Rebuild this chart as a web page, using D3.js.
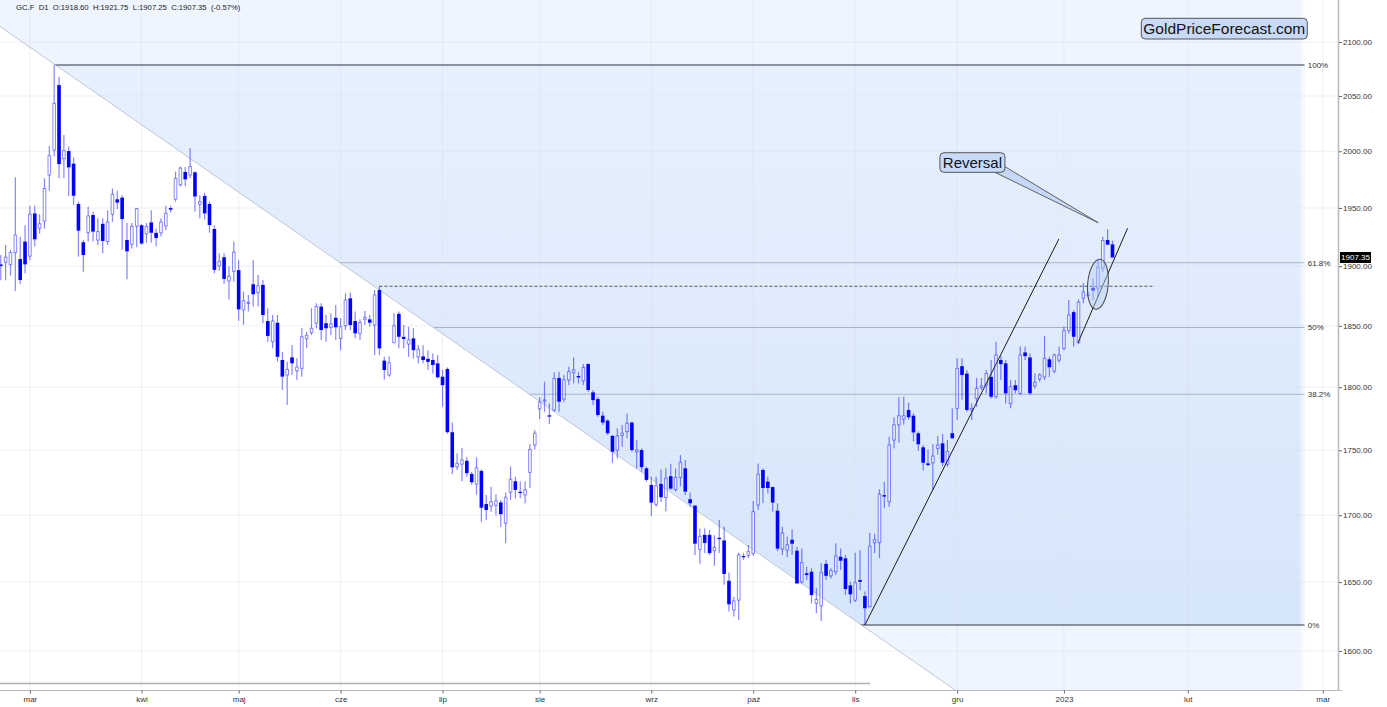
<!DOCTYPE html>
<html><head><meta charset="utf-8">
<script src="https://cdn.jsdelivr.net/npm/d3@7"></script>
<style>
body{margin:0;background:#fff;}
svg{display:block;font-family:"Liberation Sans",Arial,Helvetica,sans-serif;}
</style>
</head><body>
<svg id="chart" width="1387" height="707"></svg>
<script>
// ---------------- DATA ----------------
const symbol = "GC.F";
const timeframe = "D1";
const firstIndex = -6; // trading-day index of first bar (index 0 = 1 Mar 2022)
const opens = [
1901.5,1903.5,1901.5,1911.5,1906,1921,1908.6,1945.3,1932.4,1938.7,
1979,2001.1,2060,1993.4,2000.2,1989,1953.5,1920.4,1928.6,1943.9,
1922.3,1936.3,1921,1944.5,1957.6,1959,1922.3,1918.7,1934.3,1935,
1927.6,1937.5,1928.5,1928.5,1934.5,1949.9,1957.6,1970.4,1981.6,1979,
1981.3,1953.3,1960.5,1953.5,1931.8,1900.3,1907.6,1887.5,1895.7,1896.6,
1863.2,1868.7,1884.7,1877.7,1884.2,1854,1837,1852.6,1822,1809.9,
1824.2,1813.3,1815.2,1839.4,1844.4,1852.2,1866,1852.2,1848.8,1856.7,
1839.7,1850.1,1872.9,1854,1843.8,1855.4,1855.4,1850.7,1879.9,1821.5,
1809.9,1836.2,1860,1841,1835.1,1839.7,1824.6,1825,1823,1822,
1819.3,1808.5,1814.7,1764.2,1737.2,1739.3,1741.9,1731.7,1723.9,1734,
1708.5,1707,1707.5,1709.8,1694,1717.5,1726,1717.9,1715.5,1732.9,
1754.2,1782.8,1789,1777.6,1781.8,1807.5,1790.5,1805.8,1811.7,1809,
1805.2,1818.7,1795.9,1790.5,1777.3,1773.4,1761.3,1750.2,1761.6,1764.7,
1771.8,1748.9,1750.2,1736,1723.2,1708.3,1723.9,1713.5,1729.9,1719.6,
1729,1736,1712.2,1707.3,1674.3,1685.2,1685.2,1673.3,1683,1681,
1651,1629.6,1636.8,1669.3,1670,1671.3,1707.8,1734.7,1725.7,1721.5,
1703.5,1674.6,1673.8,1681.5,1673.3,1650.2,1656.5,1657.7,1634.4,1632.6,
1663.5,1654.6,1657.7,1668.8,1667.6,1647.6,1636.8,1651.5,1639.7,1632,
1679.3,1679.3,1715.3,1710.3,1758.1,1770,1774.5,1781.8,1777.3,1763.4,
1752.4,1739.8,1740.3,1751.5,1755.5,1739.3,1763.4,1783.1,1817,1811,
1781.8,1791,1799.8,1801.6,1808.3,1792.4,1822,1819.3,1787,1801.6,
1795.1,1828.2,1824.1,1801.1,1806.6,1808.3,1822.6,1813.1,1822,1831.5,
1846,1861.4,1836.2,1873,1875.4,1881.8,1881.5,1898.3,1922.3,1918.6];
const highs = [
1909.5,1918,1914,1977,1925,1935,1952,1952,1944.5,1976,
2004.6,2078.6,2067.7,2014.6,2004,1994.5,1955.5,1922.3,1951,1946.7,
1941,1941,1948,1967,1965,1961,1937,1937,1950,1936,
1937,1948,1932,1941,1952,1952,1982,1986.5,1986,2003,
1982,1961,1963,1955.5,1935,1911,1911,1900,1921,1905,
1878.5,1875.7,1905,1892.5,1888.3,1864.6,1859,1859,1828.7,1820.6,
1834.2,1823.4,1848,1845.2,1864.6,1868.8,1868.8,1859,1860.4,1867.4,
1856.2,1877.2,1877.8,1861.8,1855.5,1862.4,1858.9,1879.9,1883,1824.7,
1825,1860.4,1861.8,1850.7,1849.3,1848,1834.2,1834,1830,1827.4,
1826,1814,1816,1771.8,1747.6,1752,1745,1733.4,1744.5,1735,
1715.5,1721.8,1716,1711.6,1717.3,1737.5,1729.4,1726,1726,1755,
1766,1791.9,1804.5,1787,1812,1812.5,1809.9,1816.5,1824,1812.5,
1818.7,1819.3,1797.8,1792.4,1780.4,1774.4,1762.1,1767.3,1769.9,1779.1,
1772.6,1758,1751.5,1737.2,1729.5,1729.5,1735,1736,1739.6,1735.8,
1746.3,1742.4,1717.3,1707.8,1690,1690,1688.8,1685,1696.4,1691.5,
1657,1639.3,1671.8,1671.5,1677.5,1710.9,1739.8,1736,1729.4,1722,
1709.1,1691.2,1684,1689.3,1676.3,1675,1661.4,1660.2,1645.4,1664,
1666.4,1660.2,1678.9,1675,1670.1,1650.2,1671.8,1673.8,1643,1686.5,
1686,1719.8,1725.7,1760.7,1776,1791.9,1792.4,1787.6,1779.2,1764.7,
1754.1,1750.7,1754.7,1761.3,1762.9,1758.1,1783.1,1823.4,1823.4,1813.9,
1787,1807.5,1807.5,1813.9,1822,1837,1825.2,1822,1805.8,1805.8,
1833,1833,1827.4,1811.2,1811.2,1841.7,1824.7,1827.4,1833,1849.3,
1871.5,1863.2,1872.1,1885.5,1878.9,1889.7,1905.2,1925.2,1931.5,1921.75];
const lows = [
1888,1888,1892,1879,1885,1894,1905,1917,1928,1932,
1965,1995.5,1976,1976,1960.5,1952.6,1908,1895.3,1921,1921,
1918,1911,1918,1938,1949,1914,1889,1915,1916,1918,
1920,1920,1917,1925.6,1931,1946,1955.5,1968.6,1969,1976,
1947,1941,1940,1928.5,1894,1896,1885,1872,1887,1854.3,
1850.8,1861.8,1866,1866,1852.2,1837,1831.5,1820.6,1797.8,1785.7,
1809.9,1805.8,1808.5,1831.5,1842.5,1848,1838.4,1837,1842.5,1838.4,
1830,1846.6,1846.6,1839.7,1838.4,1850.7,1849.3,1826,1826,1806.3,
1808.5,1835.6,1831.5,1831.5,1824.6,1823.3,1819.3,1819.3,1813.9,1811,
1807,1784.5,1763,1731.4,1734.7,1726,1729.4,1723.2,1715.5,1695,
1696.4,1702.7,1700,1691,1679,1711.6,1713,1713,1709,1720.6,
1750.7,1774.7,1780.4,1770.7,1780.4,1780.4,1788,1801.7,1803.1,1803,
1801.7,1796.4,1785.7,1776.5,1769.9,1762.1,1740.3,1743.7,1752.8,1759.4,
1748.9,1736,1733.4,1725.7,1699.5,1706.5,1710,1703,1719.3,1718,
1722,1715.5,1706.5,1670.1,1663.6,1671.5,1670,1662,1671.5,1648,
1628.4,1624.9,1622.3,1666.4,1667.7,1669.6,1704,1709.1,1716.7,1702.7,
1673,1670.1,1668.4,1670.1,1648.5,1649,1651.5,1634.4,1627.2,1621.6,
1651.5,1652.7,1655.2,1659,1640.5,1634.4,1635.4,1644,1618.7,1631.6,
1671.5,1667.7,1705.3,1706.5,1751.5,1756,1770,1773.9,1757,1749.7,
1734.2,1737.7,1719.3,1746.5,1737.7,1737.2,1759.4,1774,1790,1780.4,
1773.9,1784.4,1797.8,1795.1,1791,1791,1805.8,1787,1783.1,1795.1,
1793.8,1822,1793.8,1799,1804.5,1805.8,1808.3,1811.2,1820,1830,
1843.8,1833,1835.1,1868.8,1872.9,1871.5,1874.1,1895.3,1918,1907.25];
const closes = [
1900,1907.6,1911.5,1926.6,1888.3,1901.5,1944.5,1922.9,1936.3,1967,
1996,2043.3,1988.6,2000.5,1985.7,1960.7,1930.3,1909.5,1943,1929.5,
1929.5,1921.5,1937.8,1962,1954.7,1940.4,1912.6,1934,1949.4,1919.3,
1934,1928.5,1924,1937.8,1945.3,1948.5,1976,1985,1975.1,1986.4,
1960,1955.5,1945.3,1935.2,1896.8,1904,1889.2,1891.5,1911.8,1863.7,
1870.9,1869.5,1876.3,1883.3,1859,1841.7,1854,1824.6,1808.5,1814.4,
1819.3,1816.3,1841,1842.2,1848,1866,1846.6,1848,1851.6,1848.8,
1849.3,1871.5,1850.7,1843.8,1852.6,1857,1852.6,1875.7,1831.5,1813.9,
1819.8,1850.1,1841,1839.2,1838.4,1830.1,1830.7,1822,1820.5,1818,
1808,1801.7,1764.2,1736.7,1739.8,1742.4,1732.2,1725.2,1736.4,1705.7,
1704,1710.3,1710.9,1700.8,1713.7,1727.5,1719.3,1716.9,1719.3,1750.7,
1763.4,1788.1,1789.7,1776.5,1807,1788.4,1805.8,1812.5,1813.9,1807.8,
1816,1797.8,1789.7,1777.8,1771.8,1763.4,1748.9,1761.3,1763.4,1771.3,
1750.2,1750.2,1736.9,1727,1709.6,1722.6,1713.7,1728.3,1720.3,1728.9,
1740.6,1718,1709.1,1678.5,1684,1679.1,1671.5,1675.8,1682,1656,
1633.7,1636.1,1670.1,1668.4,1672.6,1702.7,1731.3,1720.8,1720.8,1709.6,
1674.8,1686.5,1677.6,1678.5,1649,1664.4,1655.2,1640.5,1637.3,1657,
1654.6,1658.5,1669.3,1665.8,1644.9,1641,1649.5,1650.2,1630.8,1676.6,
1681.5,1716,1714.2,1754.1,1770,1777.2,1777.2,1776,1764,1754.7,
1740.3,1738.5,1745.5,1754.1,1740.3,1749,1759.4,1815.2,1809.9,1781.8,
1783,1799,1801.1,1811,1792.4,1826,1818.7,1795.1,1800.3,1797.6,
1826,1825.2,1795.1,1803.9,1809.9,1823.4,1816.1,1826,1826,1846,
1859,1841,1869.6,1878.1,1876,1879.3,1899.2,1921.8,1918.3,1907.35];

const monthLabels = ["mar","kwi","maj","cze","lip","sie","wrz","paź","lis","gru","2023","lut","mar"];
const monthIndex  = [0,23,43,64,85,105,128,149,170,191,213,238.5,266.3];
const priceTicks  = [1600,1650,1700,1750,1800,1850,1900,1950,2000,2050,2100];
const fibLevels   = [0,0.382,0.5,0.618,1];
const fibLabels   = ["0%","38.2%","50%","61.8%","100%"];

// annotation anchors (bar index, price)
const diagA = {i:-6.16, p:2114.7}, diagB = {i:190.55, p:1572.4};
const fibEndIndex = 262.6;
const breakoutBar = 72;            // dashed resistance from this bar's high
const dashedEndIndex = 231.7;
const trendLines = [
  {i1:172, p1:1618.7, i2:211.96, p2:1923.2},
  {i1:215.94, p1:1836.5, i2:226.1, p2:1932.4}
];
const ellipseAnchor = {i:220.0, p:1884.7, top:1905.8, bottom:1863.7};
const reversalTip = {i:220.05, p:1937.2};
const reversalBox = {i:187.45, p:1998.7};

// ---------------- CHART ----------------
const svg = d3.select("#chart");
const plotW = 1338, plotH = 690;
const x = d3.scaleLinear().domain([0,128]).range([29.9,651.3]);
const y = d3.scaleLog().domain([1600,2100]).range([651,42]);

const bars = opens.map((o,k)=>({i:firstIndex+k,o:o,h:highs[k],l:lows[k],c:closes[k]}));
const fibHigh = d3.max(highs), fibLow = d3.min(lows);

svg.append("rect").attr("width",1387).attr("height",707).attr("fill","#fff");

const defs = svg.append("defs");
defs.append("clipPath").attr("id","plotClip").append("rect").attr("width",plotW).attr("height",plotH);

const dA=[x(diagA.i),y(diagA.p)], dB=[x(diagB.i),y(diagB.p)];
const slope=(dB[1]-dA[1])/(dB[0]-dA[0]);
const yAt0 = dA[1]-slope*dA[0];
const xAtBottom = dA[0]+(plotH-dA[1])/slope;
const xr = x(fibEndIndex);
const shadePts = [[0,0],[xr,0],[xr,plotH],[xAtBottom,plotH],[0,yAt0]];
defs.append("clipPath").attr("id","shadeClip").append("polygon").attr("points",shadePts.join(" "));

const fg = defs.append("linearGradient").attr("id","fibGrad").attr("x1",0).attr("y1",0).attr("x2",0).attr("y2",1);
fg.append("stop").attr("offset","0%").attr("stop-color","#e7f0fd");
fg.append("stop").attr("offset","100%").attr("stop-color","#d6e6fb");
const fr = defs.append("linearGradient").attr("id","fadeR").attr("x1",0).attr("y1",0).attr("x2",1).attr("y2",0);
fr.append("stop").attr("offset","0%").attr("stop-color","#fff").attr("stop-opacity",0);
fr.append("stop").attr("offset","100%").attr("stop-color","#fff").attr("stop-opacity",0.85);

// shading
const shade = svg.append("g").attr("clip-path","url(#shadeClip)");
shade.append("rect").attr("x",0).attr("y",0).attr("width",xr).attr("height",plotH).attr("fill","#eef5fe");
shade.append("rect").attr("x",0).attr("y",y(fibHigh)).attr("width",xr)
  .attr("height",y(fibLow)-y(fibHigh)).attr("fill","url(#fibGrad)");
shade.append("rect").attr("x",xr-6).attr("y",0).attr("width",6).attr("height",plotH).attr("fill","url(#fadeR)");

// grid
const grid = svg.append("g").attr("clip-path","url(#plotClip)");
grid.selectAll("line.v").data(monthIndex).join("line").attr("class","v")
  .attr("x1",d=>x(d)).attr("x2",d=>x(d)).attr("y1",0).attr("y2",plotH)
  .attr("stroke","#d9dee6").attr("stroke-opacity",0.45).attr("stroke-width",1);
grid.selectAll("line.h").data(priceTicks).join("line").attr("class","h")
  .attr("x1",0).attr("x2",plotW).attr("y1",d=>y(d)).attr("y2",d=>y(d))
  .attr("stroke","#d9dee6").attr("stroke-opacity",0.45).attr("stroke-width",1);

// diagonal line
svg.append("line").attr("x1",0).attr("y1",yAt0).attr("x2",xAtBottom).attr("y2",plotH)
  .attr("stroke","#c2c8d2").attr("stroke-width",1);

// fib lines
const fibPrice = lv => fibLow + lv*(fibHigh-fibLow);
svg.append("g").attr("clip-path","url(#shadeClip)")
  .selectAll("line").data(fibLevels).join("line")
  .attr("x1",0).attr("x2",xr).attr("y1",d=>y(fibPrice(d))).attr("y2",d=>y(fibPrice(d)))
  .attr("stroke",d=>(d===0||d===1)?"#6d737c":"#a9b4c4")
  .attr("stroke-width",d=>(d===0||d===1)?1.4:1);
svg.append("g").selectAll("text").data(fibLevels).join("text")
  .attr("x",xr+3).attr("y",d=>y(fibPrice(d))).attr("dy","0.35em")
  .attr("font-size",8).attr("fill","#333").text((d,k)=>fibLabels[k]);

// grey horizontal bar near bottom
svg.append("line").attr("x1",0).attr("x2",870).attr("y1",683.5).attr("y2",683.5)
  .attr("stroke","#aeb0b4").attr("stroke-width",1.5);

// dashed resistance
const bb = bars.find(b=>b.i===breakoutBar);
svg.append("line").attr("x1",x(breakoutBar)).attr("x2",x(dashedEndIndex))
  .attr("y1",y(bb.h)).attr("y2",y(bb.h))
  .attr("stroke","#555").attr("stroke-width",1).attr("stroke-dasharray","3,2");

// candles
const bw = 3.6;
const cg = svg.append("g").attr("clip-path","url(#plotClip)");
const wickColor = "rgba(0,0,255,0.48)";
cg.selectAll("line.wt").data(bars).join("line").attr("class","wt")
  .attr("x1",d=>x(d.i)).attr("x2",d=>x(d.i))
  .attr("y1",d=>y(d.h)).attr("y2",d=>y(Math.max(d.o,d.c)))
  .attr("stroke",wickColor).attr("stroke-width",1.2);
cg.selectAll("line.wb").data(bars).join("line").attr("class","wb")
  .attr("x1",d=>x(d.i)).attr("x2",d=>x(d.i))
  .attr("y1",d=>y(Math.min(d.o,d.c))).attr("y2",d=>y(d.l))
  .attr("stroke",wickColor).attr("stroke-width",1.2);
cg.selectAll("rect.up").data(bars.filter(d=>d.c>=d.o)).join("rect").attr("class","up")
  .attr("x",d=>x(d.i)-bw/2+0.5).attr("width",bw-1)
  .attr("y",d=>y(d.c)).attr("height",d=>Math.max(y(d.o)-y(d.c),0.8))
  .attr("fill","rgba(255,255,255,0.35)").attr("stroke","rgba(20,20,255,0.5)").attr("stroke-width",1);
cg.selectAll("rect.dn").data(bars.filter(d=>d.c<d.o)).join("rect").attr("class","dn")
  .attr("x",d=>x(d.i)-bw/2).attr("width",bw)
  .attr("y",d=>y(d.o)).attr("height",d=>Math.max(y(d.c)-y(d.o),1))
  .attr("fill","#0000ff");

// trend lines
svg.append("g").selectAll("line").data(trendLines).join("line")
  .attr("x1",d=>x(d.i1)).attr("y1",d=>y(d.p1)).attr("x2",d=>x(d.i2)).attr("y2",d=>y(d.p2))
  .attr("stroke","#1a1a1a").attr("stroke-width",1);

// ellipse
const ecx = x(ellipseAnchor.i), ecy = y(ellipseAnchor.p);
svg.append("ellipse").attr("cx",ecx).attr("cy",ecy).attr("rx",10.3)
  .attr("ry",(y(ellipseAnchor.bottom)-y(ellipseAnchor.top))/2)
  .attr("transform",`rotate(5,${ecx},${ecy})`)
  .attr("fill","rgba(185,208,245,0.45)").attr("stroke","#4a4a4a").attr("stroke-width",1);

// Reversal callout
const tx = x(reversalTip.i), ty = y(reversalTip.p);
const bx = x(reversalBox.i), by = y(reversalBox.p);
const bW = 65, bH = 19.6;
svg.append("polygon")
  .attr("points",[[bx+bW-11,by+bH-0.5],[bx+bW-0.5,by+bH-6],[tx,ty]].join(" "))
  .attr("fill","#c5d8f7").attr("stroke","#555").attr("stroke-width",0.9);
svg.append("rect").attr("x",bx).attr("y",by).attr("width",bW).attr("height",bH).attr("rx",4)
  .attr("fill","#c9daf8").attr("stroke","#555").attr("stroke-width",1);
svg.append("text").attr("x",bx+bW/2).attr("y",by+bH/2).attr("dy","0.36em")
  .attr("text-anchor","middle").attr("font-size",15).attr("fill","#111").text("Reversal");

// brand box
svg.append("rect").attr("x",1141.3).attr("y",18.3).attr("width",166).attr("height",20.7).attr("rx",4)
  .attr("fill","#c9daf8").attr("stroke","#555").attr("stroke-width",1);
svg.append("text").attr("x",1224.3).attr("y",28.7).attr("dy","0.36em").attr("text-anchor","middle")
  .attr("font-size",15.5).attr("fill","#111").text("GoldPriceForecast.com");

// axes
svg.append("line").attr("x1",plotW+0.5).attr("x2",plotW+0.5).attr("y1",0).attr("y2",plotH)
  .attr("stroke","#b8b8b8").attr("stroke-width",1.5);
svg.append("line").attr("x1",0).attr("x2",plotW+4).attr("y1",plotH+0.5).attr("y2",plotH+0.5)
  .attr("stroke","#b8b8b8").attr("stroke-width",1.2);

const yAxis = svg.append("g").attr("transform",`translate(${plotW+1},0)`)
  .call(d3.axisRight(y).tickValues(priceTicks).tickFormat(d3.format(".2f")).tickSize(3).tickPadding(1));
yAxis.select(".domain").remove();
yAxis.selectAll("line").attr("stroke","#666");
yAxis.selectAll("text").attr("font-size",8).attr("fill","#333").attr("font-family","Liberation Sans, Arial, sans-serif");

const xAxis = svg.append("g").attr("transform",`translate(0,${plotH+0.5})`)
  .call(d3.axisBottom(x).tickValues(monthIndex).tickFormat((d,k)=>monthLabels[k]).tickSize(3).tickPadding(3));
xAxis.select(".domain").remove();
xAxis.selectAll("line").attr("stroke","#666");
xAxis.selectAll("text").attr("font-size",8).attr("fill","#333").attr("font-family","Liberation Sans, Arial, sans-serif");

// last price tag
const last = bars[bars.length-1], prev = bars[bars.length-2];
const ly = y(last.c);
svg.append("rect").attr("x",plotW+2).attr("y",ly-5.5).attr("width",31).attr("height",11).attr("fill","#000");
svg.append("text").attr("x",plotW+17.5).attr("y",ly).attr("dy","0.35em").attr("text-anchor","middle")
  .attr("font-size",8).attr("fill","#fff").text(last.c.toFixed(2));

// title
const pct = (last.c-prev.c)/prev.c*100;
svg.append("text").attr("x",16).attr("y",10).attr("font-size",7.7).attr("fill","#222")
  .style("white-space","pre")
  .text(`${symbol}  ${timeframe}  O:${last.o.toFixed(2)}  H:${last.h.toFixed(2)}  L:${last.l.toFixed(2)}  C:${last.c.toFixed(2)}  (${pct.toFixed(2)}%)`);
</script>
</body></html>
